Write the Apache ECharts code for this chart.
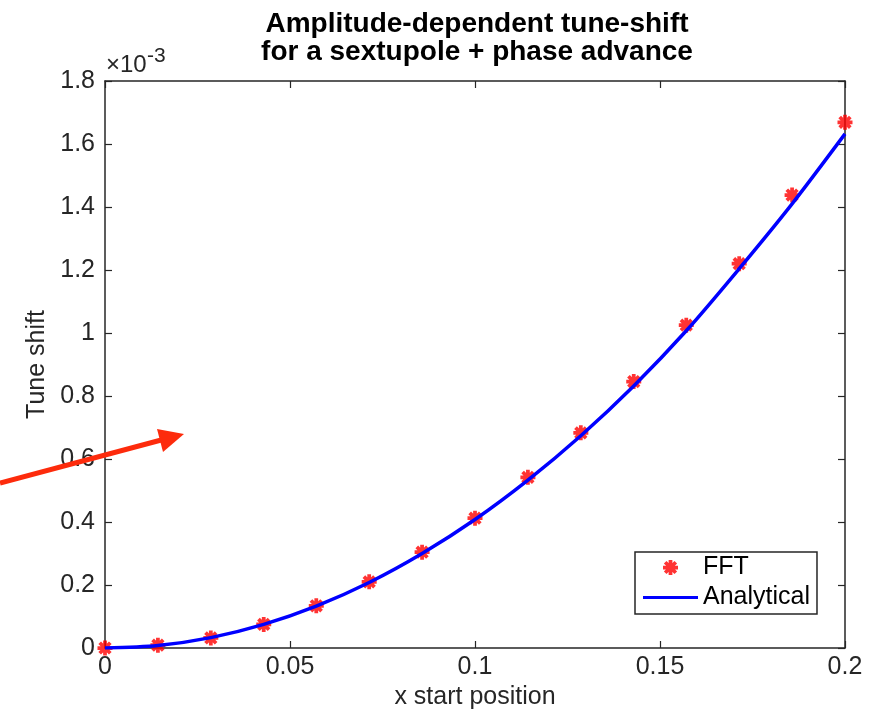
<!DOCTYPE html>
<html>
<head>
<meta charset="utf-8">
<script src="https://cdn.jsdelivr.net/npm/echarts@6/dist/echarts.min.js"></script>
<style>html,body{margin:0;padding:0;background:#fff}#c{width:886px;height:711px}</style>
</head>
<body>
<div id="c"></div>
<script>
// x start positions
const xPositions = [0, 0.0143, 0.0286, 0.0429, 0.0571, 0.0714, 0.0857, 0.1, 0.1143, 0.1286, 0.1429, 0.1571, 0.1714, 0.1857, 0.2];
// FFT tune shift (units of 1e-3)
const fftValues = [0, 0.009, 0.032, 0.075, 0.134, 0.210, 0.304, 0.412, 0.542, 0.683, 0.846, 1.025, 1.220, 1.438, 1.669];
// Analytical tune shift (units of 1e-3)
const analyticalValues = [0, 0.008, 0.033, 0.075, 0.133, 0.208, 0.300, 0.408, 0.533, 0.674, 0.832, 1.007, 1.204, 1.410, 1.632];
const xTicks = [0, 0.05, 0.1, 0.15, 0.2];
const yTickLabels = ['0', '0.2', '0.4', '0.6', '0.8', '1', '1.2', '1.4', '1.6', '1.8'];

const star = 'path://M0 7.5L20 7.5L20 12.5L0 12.5Z M7.5 0L12.5 0L12.5 20L7.5 20Z M4.7 1.17L18.83 15.3L15.3 18.83L1.17 4.7Z M15.3 1.17L18.83 4.7L4.7 18.83L1.17 15.3Z';
const lineIcon = 'path://M0 0L55 0L55 3L0 3Z';
const axisColor = '#262626';
const font = '"Liberation Sans", Arial, Helvetica, sans-serif';

const chart = echarts.init(document.getElementById('c'), null, {renderer: 'canvas'});
const baseX = {
  type: 'value', min: 0, max: 0.2, interval: 0.05,
  axisLine: {show: true, onZero: false, lineStyle: {color: axisColor, width: 1.5}},
  axisTick: {show: true, inside: true, length: 7, lineStyle: {color: axisColor, width: 1.2}},
  splitLine: {show: false}
};
const baseY = {
  type: 'value', min: 0, max: 1.8, interval: 0.2,
  axisLine: {show: true, onZero: false, lineStyle: {color: axisColor, width: 1.5}},
  axisTick: {show: true, inside: true, length: 7, lineStyle: {color: axisColor, width: 1.2}},
  splitLine: {show: false}
};
const option = {
  animation: false,
  backgroundColor: '#fff',
  title: {
    text: 'Amplitude-dependent tune-shift\nfor a sextupole + phase advance',
    left: 472, top: 5, textAlign: 'center',
    textStyle: {fontFamily: font, fontWeight: 'bold', fontSize: 28, color: '#000', lineHeight: 28}
  },
  grid: {left: 105, right: 41, top: 81, bottom: 63, containLabel: false, outerBoundsMode: 'none'},
  legend: {
    orient: 'vertical', left: 635, top: 552,
    padding: [3, 7, 4, 8], itemGap: 5, itemWidth: 55, itemHeight: 15,
    backgroundColor: '#fff', borderColor: axisColor, borderWidth: 1.5, borderRadius: 0,
    textStyle: {fontFamily: font, fontSize: 25, color: '#000'},
    data: [{name: 'FFT', icon: star}, {name: 'Analytical', icon: lineIcon}]
  },
  xAxis: [
    Object.assign({}, baseX, {
      position: 'bottom',
      name: 'x start position', nameLocation: 'middle', nameGap: 36,
      nameTextStyle: {fontFamily: font, fontSize: 25, color: axisColor},
      axisLabel: {show: true, margin: 7, fontFamily: font, fontSize: 25, color: axisColor,
        formatter: v => { const i = xTicks.findIndex(t => Math.abs(t - v) < 1e-9); return i >= 0 ? String(xTicks[i]) : ''; }}
    }),
    Object.assign({}, baseX, {position: 'top', axisLabel: {show: false}})
  ],
  yAxis: [
    Object.assign({}, baseY, {
      position: 'left',
      name: 'Tune shift', nameLocation: 'middle', nameGap: 51, nameRotate: 90,
      nameTextStyle: {fontFamily: font, fontSize: 25, color: axisColor},
      axisLabel: {show: true, margin: 10, fontFamily: font, fontSize: 25, color: axisColor,
        formatter: v => yTickLabels[Math.round(v / 0.2)]}
    }),
    Object.assign({}, baseY, {position: 'right', axisLabel: {show: false}})
  ],
  series: [
    {
      name: 'FFT', type: 'scatter', xAxisIndex: 0, yAxisIndex: 0,
      symbol: star, symbolSize: 15,
      itemStyle: {color: '#ff0000'},
      data: xPositions.map((x, i) => [x, fftValues[i]])
    },
    {
      name: 'Analytical', type: 'line', xAxisIndex: 0, yAxisIndex: 0,
      smooth: 0.3, symbol: 'none', showSymbol: false,
      lineStyle: {color: '#0000ff', width: 3.5},
      itemStyle: {color: '#0000ff'},
      data: xPositions.map((x, i) => [x, analyticalValues[i]])
    }
  ],
  graphic: [
    {
      type: 'text', x: 106, y: 65, silent: true,
      style: {text: '×10', fontFamily: font, fontSize: 24, fill: axisColor, verticalAlign: 'middle', align: 'left'}
    },
    {
      type: 'text', x: 147, y: 56, silent: true,
      style: {text: '-3', fontFamily: font, fontSize: 21, fill: axisColor, verticalAlign: 'middle', align: 'left'}
    },
    {
      type: 'polyline', silent: true, z: 100,
      shape: {points: [[0, 483], [165, 439]]},
      style: {stroke: '#fd2b0c', lineWidth: 5, fill: null}
    },
    {
      type: 'polygon', silent: true, z: 100,
      shape: {points: [[157, 429], [184, 434], [163, 452]]},
      style: {fill: '#fd2b0c'}
    }
  ]
};
chart.setOption(option);
</script>
</body>
</html>
